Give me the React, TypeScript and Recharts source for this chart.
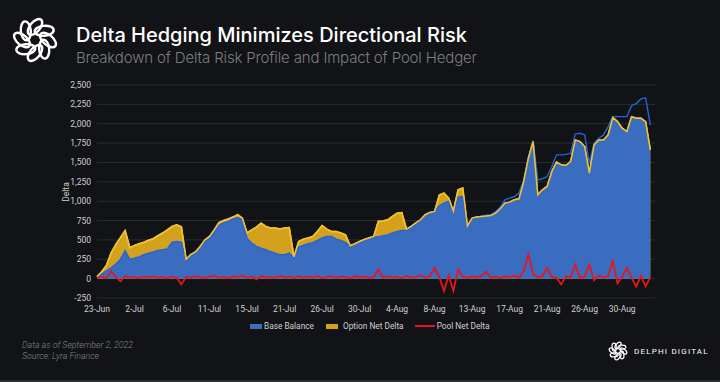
import {
  Area,
  CartesianGrid,
  ComposedChart,
  Line,
  XAxis,
  YAxis,
} from "recharts";

const dateTicks = [
  "23-Jun", "2-Jul", "6-Jul", "11-Jul", "15-Jul", "21-Jul", "26-Jul", "30-Jul",
  "4-Aug", "8-Aug", "13-Aug", "17-Aug", "21-Aug", "26-Aug", "30-Aug",
];
const POINTS_PER_TICK = 8;

const yTicks = [-250, 0, 250, 500, 750, 1000, 1250, 1500, 1750, 2000, 2250, 2500];

const baseBalance = [
  20, 60, 100, 140, 190, 250, 360, 250, 265, 280,
  310, 330, 345, 365, 374, 385, 470, 480, 470, 240,
  300, 340, 405, 480, 520, 600, 690, 720, 740, 770,
  790, 760, 520, 460, 416, 395, 374, 350, 330, 310,
  310, 330, 265, 408, 430, 450, 465, 495, 525, 545,
  545, 510, 495, 465, 420, 445, 470, 495, 515, 535,
  540, 555, 565, 590, 610, 623, 625, 655, 710, 750,
  825, 855, 868, 940, 975, 1000, 855, 1053, 1060, 670,
  770, 785, 803, 820, 825, 867, 920, 1018, 1040, 1060,
  1104, 1275, 1555, 1780, 1275, 1290, 1318, 1447, 1598, 1598,
  1605, 1620, 1865, 1877, 1855, 1490, 1748, 1813, 1855, 1963,
  2092, 2092, 2092, 2092, 2233, 2260, 2320, 2335, 1985,
];

const optionNetDelta = [
  5, 30, 70, 190, 250, 280, 260, 150, 165, 170,
  160, 165, 170, 190, 215, 245, 205, 215, 200, 10,
  10, 5, 10, 20, 25, 30, 35, 30, 30, 25,
  35, 20, 70, 170, 250, 320, 300, 305, 325, 330,
  345, 330, 15, 70, 80, 75, 80, 115, 160, 95,
  65, 100, 95, 100, 5, 5, 10, 10, 10, 10,
  200, 190, 195, 215, 235, 230, 15, 20, 10, 10,
  0, 0, 0, 140, 130, 40, 15, 95, 110, 10,
  12, 10, 0, -10, -10, -22, -18, -43, -52, -42,
  -74, -21, 0, -10, -193, -143, -128, -64, -94, -129,
  -145, -110, -74, -107, -150, -128, -21, -23, -65, -108,
  -14, -65, -150, -194, -143, -190, -250, -308, -323,
];

const poolNetDelta = [
  10, 25, 5, 95, 20, -35, 30, 15, 20, 5,
  25, 15, 30, 10, 20, 5, 25, 10, -75, 20,
  10, 30, 15, 5, 25, 35, 10, 20, 5, 30,
  15, 40, 10, 25, -10, 30, 15, 20, 10, 35,
  15, 25, 5, 30, 10, 25, 15, 35, 5, 20,
  30, 10, 25, 15, 5, 30, 15, 25, 10, 20,
  115, 15, 30, 10, 25, 5, 35, 15, 20, 45,
  10, 30, 140, 20, -160, 40, -155, 115, 25, 10,
  30, 15, 35, 90, 10, 25, 5, 30, 15, 40,
  10, 95, 310, 60, 15, 35, 140, 20, 10, -75,
  30, 15, 180, 10, 25, 180, -20, 40, 15, 30,
  225, -60, 25, 140, 10, -100, 35, -100, 20,
];

const BLUE_FILL = "#3a6cc0";
const BLUE_LINE = "#2463d8";
const GOLD_FILL = "#d4a11c";
const GOLD_LINE = "#f0c232";
const RED = "#e8161c";
const BG = "#121316";
const TEXT = "#cfd0d2";
const FONT = "Inter, 'Noto Sans', sans-serif";
const SMALL_FONT = "Roboto, 'Noto Sans', sans-serif";

const chartData = baseBalance.map((base, i) => {
  const total = base + optionNetDelta[i];
  return {
    i,
    base,
    total,
    lower: Math.min(base, total),
    pool: poolNetDelta[i],
  };
});

const xTicks = dateTicks.map((_, k) => k * POINTS_PER_TICK);

function Logo({ size, stroke }: { size: number; stroke: number }) {
  const loops = [0, 45, 90, 135, 180, 225, 270, 315];
  return (
    <svg width={size} height={size} viewBox="-24 -24 48 48">
      {loops.map((a) => (
        <ellipse
          key={a}
          cx={0}
          cy={0}
          rx={5}
          ry={9.5}
          transform={`rotate(${a}) translate(0,-13) rotate(40)`}
          fill="none"
          stroke="#fff"
          strokeWidth={stroke}
        />
      ))}
    </svg>
  );
}

export default function App() {
  return (
    <div
      style={{
        position: "fixed",
        left: 0,
        top: 0,
        width: 720,
        height: 382,
        background: BG,
        fontFamily: FONT,
        overflow: "hidden",
        borderBottom: "2px solid #2b2d31",
        boxSizing: "border-box",
      }}
    >
      <div style={{ position: "absolute", left: 11, top: 16 }}>
        <Logo size={48} stroke={2.4} />
      </div>
      <div
        style={{
          position: "absolute",
          left: 76,
          top: 23,
          color: "#fff",
          fontSize: 20,
          fontWeight: 500,
          whiteSpace: "nowrap",
        }}
      >
        Delta Hedging Minimizes Directional Risk
      </div>
      <div
        style={{
          position: "absolute",
          left: 76,
          top: 48,
          color: "#7c7e82",
          fontSize: 15,
          fontWeight: 300,
          letterSpacing: -0.15,
          whiteSpace: "nowrap",
        }}
      >
        Breakdown of Delta Risk Profile and Impact of Pool Hedger
      </div>

      <div style={{ position: "absolute", left: 0, top: 0 }}>
        <ComposedChart
          width={720}
          height={382}
          data={chartData}
          margin={{ top: 85, right: 65, bottom: 64, left: 0 }}
        >
          <CartesianGrid stroke="#2a2c30" vertical={false} />
          <XAxis
            dataKey="i"
            type="number"
            domain={[0, 119]}
            ticks={xTicks}
            height={20}
            axisLine={false}
            tickLine={false}
            tick={{ fill: TEXT, fontSize: 8.5, fontFamily: SMALL_FONT }}
            tickFormatter={(v: number) => dateTicks[v / POINTS_PER_TICK] ?? ""}
            interval={0}
          />
          <YAxis
            width={97}
            type="number"
            domain={[-250, 2500]}
            ticks={yTicks}
            interval={0}
            axisLine={false}
            tickLine={false}
            tickMargin={0}
            tick={{ fill: TEXT, fontSize: 8.5, fontFamily: SMALL_FONT }}
            tickFormatter={(v: number) => v.toLocaleString("en-US")}
          />
          <Area
            type="linear"
            dataKey="total"
            name="Option Net Delta"
            fill={GOLD_FILL}
            fillOpacity={1}
            stroke={GOLD_LINE}
            strokeWidth={1.5}
            isAnimationActive={false}
            dot={false}
            activeDot={false}
          />
          <Area
            type="linear"
            dataKey="lower"
            name="Base Balance"
            fill={BLUE_FILL}
            fillOpacity={1}
            stroke="none"
            isAnimationActive={false}
            dot={false}
            activeDot={false}
          />
          <Line
            type="linear"
            dataKey="base"
            stroke={BLUE_LINE}
            strokeWidth={1.4}
            dot={false}
            activeDot={false}
            isAnimationActive={false}
          />
          <Line
            type="linear"
            dataKey="total"
            stroke={GOLD_LINE}
            strokeWidth={1.5}
            dot={false}
            activeDot={false}
            isAnimationActive={false}
          />
          <Line
            type="linear"
            dataKey="pool"
            name="Pool Net Delta"
            stroke={RED}
            strokeWidth={1.8}
            dot={false}
            activeDot={false}
            isAnimationActive={false}
          />
        </ComposedChart>
      </div>

      <div
        style={{
          position: "absolute",
          left: 46,
          top: 186,
          width: 40,
          height: 12,
          lineHeight: "12px",
          textAlign: "center",
          color: TEXT,
          fontSize: 8.5,
          fontFamily: SMALL_FONT,
          transform: "rotate(-90deg)",
        }}
      >
        Delta
      </div>

      <div
        style={{
          position: "absolute",
          left: 250,
          top: 320,
          display: "flex",
          alignItems: "center",
          color: TEXT,
          fontSize: 8.3,
          fontFamily: SMALL_FONT,
          whiteSpace: "nowrap",
          lineHeight: "12px",
        }}
      >
        <span style={{ width: 12, height: 5, background: BLUE_FILL, marginRight: 2 }} />
        <span style={{ marginRight: 12 }}>Base Balance</span>
        <span style={{ width: 12, height: 5, background: GOLD_FILL, marginRight: 5 }} />
        <span style={{ marginRight: 11 }}>Option Net Delta</span>
        <span style={{ width: 20, height: 1.5, background: RED, marginRight: 2 }} />
        <span>Pool Net Delta</span>
      </div>

      <div
        style={{
          position: "absolute",
          left: 22,
          top: 340,
          color: "#85878b",
          fontSize: 8.8,
          fontFamily: SMALL_FONT,
          fontStyle: "italic",
          fontWeight: 300,
          lineHeight: "11px",
        }}
      >
        <div>Data as of September 2, 2022</div>
        <div>Source: Lyra Finance</div>
      </div>

      <div
        style={{
          position: "absolute",
          left: 608,
          top: 341,
          display: "flex",
          alignItems: "center",
          color: "#fff",
          fontSize: 8,
          fontFamily: SMALL_FONT,
          letterSpacing: 1.2,
          whiteSpace: "nowrap",
        }}
      >
        <Logo size={20} stroke={3} />
        <span style={{ marginLeft: 6 }}>DELPHI DIGITAL</span>
      </div>
    </div>
  );
}
